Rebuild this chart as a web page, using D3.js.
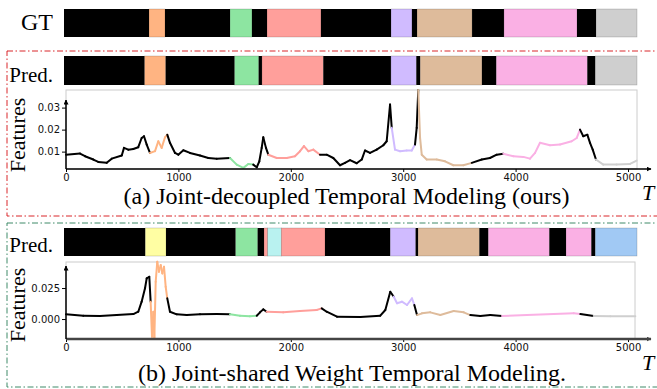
<!DOCTYPE html>
<html>
<head>
<meta charset="utf-8">
<script src="https://cdn.jsdelivr.net/npm/d3@7"></script>
<style>
  body { margin: 0; background: #fff; }
  svg { display: block; }
</style>
</head>
<body>
<svg id="fig" width="657" height="389"></svg>
<script>
// segment classes (seaborn pastel)
const classNames  = ["bg", "orange", "green", "salmon", "lavender", "tan", "pink", "gray", "yellow", "cyan", "blue"];
const classColors = ["#000000", "#ffb482", "#8de5a1", "#ff9f9b", "#d0bbff", "#debb9b", "#fab0e4", "#cfcfcf", "#fffea3", "#b9f2f0", "#a1c9f4"];

// ground truth segmentation (segment end frames + class)
const gtEnds   = [757, 899, 1478, 1673, 1807, 2287, 2911, 3097, 3142, 3632, 3916, 4566, 4735, 5100];
const gtLabels = ["bg", "orange", "bg", "green", "bg", "salmon", "bg", "lavender", "bg", "tan", "bg", "pink", "bg", "gray"];

// (a) prediction
const predAEnds   = [718, 905, 1519, 1733, 1762, 2308, 2910, 3136, 3171, 3720, 3848, 4658, 4729, 5100];
const predALabels = ["bg", "orange", "bg", "green", "bg", "salmon", "bg", "lavender", "bg", "tan", "bg", "pink", "bg", "gray"];

// (b) prediction
const predBEnds   = [724, 908, 1528, 1724, 1780, 1813, 1934, 2323, 2904, 3130, 3151, 3697, 3777, 4320, 4468, 4694, 4729, 5100];
const predBLabels = ["bg", "yellow", "bg", "green", "bg", "salmon", "cyan", "salmon", "bg", "lavender", "bg", "tan", "bg", "pink", "bg", "pink", "bg", "blue"];

// (a) feature curve
const featAT = [0, 125, 169, 243, 287, 362, 407, 496, 516, 554, 599, 643, 673, 694, 718, 747, 792, 821, 851, 881,
  901, 925, 970, 999, 1044, 1103, 1192, 1266, 1341, 1459, 1519, 1578, 1622, 1666, 1697, 1720, 1741, 1755, 1779, 1800,
  1875, 1964, 2037, 2082, 2117, 2156, 2200, 2260, 2319, 2378, 2438, 2482, 2527, 2586, 2631, 2660, 2705, 2764, 2823, 2853,
  2883, 2898, 2927, 2972, 3031, 3076, 3105, 3120, 3134, 3150, 3165, 3209, 3298, 3372, 3446, 3535, 3610, 3699, 3772, 3832,
  3891, 3980, 4069, 4128, 4173, 4217, 4306, 4395, 4499, 4544, 4573, 4602, 4638, 4662, 4686, 4715, 4780, 4899, 5018, 5077];
const featAV = [0.0086, 0.0091, 0.0079, 0.0064, 0.0053, 0.0049, 0.0068, 0.0082, 0.0117, 0.0109, 0.0112, 0.0120, 0.0162, 0.0170, 0.0132, 0.0094, 0.0102, 0.0147, 0.0117, 0.0165,
  0.0177, 0.0140, 0.0094, 0.0086, 0.0106, 0.0094, 0.0082, 0.0071, 0.0068, 0.0071, 0.0041, 0.0026, 0.0044, 0.0041, 0.0029, 0.0056, 0.0117, 0.0165, 0.0117, 0.0086,
  0.0071, 0.0071, 0.0079, 0.0102, 0.0125, 0.0102, 0.0109, 0.0086, 0.0086, 0.0071, 0.0038, 0.0049, 0.0061, 0.0047, 0.0064, 0.0105, 0.0094, 0.0109, 0.0129, 0.0147,
  0.0314, 0.0208, 0.0109, 0.0102, 0.0105, 0.0105, 0.0132, 0.0208, 0.0380, 0.0162, 0.0086, 0.0064, 0.0064, 0.0056, 0.0038, 0.0038, 0.0049, 0.0064, 0.0071, 0.0086,
  0.0090, 0.0079, 0.0076, 0.0068, 0.0094, 0.0140, 0.0129, 0.0132, 0.0147, 0.0162, 0.0200, 0.0170, 0.0177, 0.0140, 0.0109, 0.0064, 0.0041, 0.0041, 0.0044, 0.0059];

// (b) feature curve
const featBT = [0, 154, 302, 451, 599, 643, 673, 703, 718, 741, 753, 765, 777, 786, 798, 812, 827, 843, 857, 872,
  887, 901, 925, 985, 1074, 1192, 1341, 1459, 1548, 1637, 1697, 1726, 1755, 1785, 1933, 2082, 2230, 2275, 2319, 2411,
  2619, 2796, 2841, 2885, 2916, 2945, 2989, 3034, 3078, 3099, 3123, 3167, 3241, 3330, 3449, 3538, 3597, 3686, 3775, 3879,
  4101, 4339, 4517, 4576, 4695, 4843, 5065];
const featBV = [0.0038, 0.0027, 0.0024, 0.0032, 0.0040, 0.0059, 0.0140, 0.0248, 0.0328, 0.0341, 0.0140, -0.0143, 0.0059, -0.0156, 0.0301, 0.0462, 0.0381, 0.0435, 0.0368, 0.0422,
  0.0260, 0.0167, 0.0059, 0.0038, 0.0032, 0.0038, 0.0040, 0.0038, 0.0027, 0.0022, 0.0027, 0.0054, 0.0078, 0.0059, 0.0054, 0.0065, 0.0073, 0.0086, 0.0059, 0.0019,
  0.0016, 0.0027, 0.0073, 0.0220, 0.0180, 0.0127, 0.0140, 0.0113, 0.0167, 0.0113, 0.0032, 0.0046, 0.0054, 0.0032, 0.0065, 0.0054, 0.0032, 0.0024, 0.0032, 0.0024,
  0.0032, 0.0040, 0.0046, 0.0040, 0.0024, 0.0022, 0.0022];

const xTicks = [0, 1000, 2000, 3000, 4000, 5000];
const yTicksA = [0.01, 0.02, 0.03];
const yTicksB = [0.000, 0.025];

const color = d3.scaleOrdinal(classNames, classColors);
const svg = d3.select("#fig");
const serif = "'Liberation Serif', 'Times New Roman', serif";
const sans = "'DejaVu Sans', sans-serif";

// bar scale (frames -> px)
const xBar = d3.scaleLinear().domain([0, 5100]).range([64, 637]);

function gtLabelAt(t) {
  const i = d3.bisectRight(gtEnds, t);
  return gtLabels[Math.min(i, gtLabels.length - 1)];
}

function drawBar(ends, labels, y0, h) {
  const segs = ends.map((e, i) => ({ start: i === 0 ? 0 : ends[i - 1], end: e, label: labels[i] }));
  svg.append("g").selectAll("rect")
    .data(segs)
    .enter()
    .append("rect")
    .attr("x", d => xBar(d.start))
    .attr("y", y0)
    .attr("width", d => xBar(d.end) - xBar(d.start))
    .attr("height", h)
    .attr("fill", d => color(d.label))
    .attr("stroke", d => d.label === "bg" ? "none" : "rgba(0,0,0,0.25)")
    .attr("stroke-width", 0.6);
}

// arrow marker
const defs = svg.append("defs");
function marker(id, fill) {
  defs.append("marker")
    .attr("id", id)
    .attr("viewBox", "0 0 10 10")
    .attr("refX", 9).attr("refY", 5)
    .attr("markerWidth", 5).attr("markerHeight", 5)
    .attr("markerUnits", "userSpaceOnUse")
    .attr("orient", "auto")
    .append("path")
    .attr("d", "M0,0 L10,5 L0,10 z")
    .attr("fill", fill);
}
marker("arrK", "#000");
marker("arrG", "#444");

function drawPlot(opts) {
  const x = d3.scaleLinear().domain([0, 5080]).range([66, 637]);
  const y = d3.scaleLinear().domain(opts.yDomain).range([opts.bottom, opts.top]);
  const g = svg.append("g");

  // light frame
  g.append("rect")
    .attr("x", x.range()[0]).attr("y", opts.top)
    .attr("width", opts.right - x.range()[0]).attr("height", opts.bottom - opts.top)
    .attr("fill", "none").attr("stroke", "#cccccc").attr("stroke-width", 1);

  // x axis
  const xa = g.append("g")
    .attr("transform", "translate(0," + opts.bottom + ")")
    .call(d3.axisBottom(x).tickValues(xTicks).tickSize(3).tickPadding(2).tickFormat(d3.format("d")));
  xa.select(".domain").remove();
  xa.selectAll("line").attr("stroke", "#000");
  xa.selectAll("text").attr("font-family", sans).attr("font-size", 10).attr("fill", "#111");

  // y axis
  const ya = g.append("g")
    .attr("transform", "translate(66,0)")
    .call(d3.axisLeft(y).tickValues(opts.yTicks).tickSize(4).tickPadding(2).tickFormat(d3.format(opts.fmt)));
  ya.select(".domain").remove();
  ya.selectAll("text").attr("font-family", sans).attr("font-size", 10).attr("fill", "#111");

  // feature line, coloured by GT class
  const pts = opts.t.map((t, i) => [t, opts.v[i]]);
  const line = d3.line().x(d => x(d[0])).y(d => y(d[1]));
  const pairs = d3.pairs(pts);
  g.append("g").selectAll("path")
    .data(pairs)
    .enter()
    .append("path")
    .attr("d", d => line(d))
    .attr("fill", "none")
    .attr("stroke", d => color(gtLabelAt((d[0][0] + d[1][0]) / 2)))
    .attr("stroke-width", 2)
    .attr("stroke-linecap", "round")
    .attr("stroke-linejoin", "round");

  // axis lines with arrows
  g.append("line")
    .attr("x1", 66).attr("x2", 651)
    .attr("y1", opts.bottom).attr("y2", opts.bottom)
    .attr("stroke", opts.xAxisColor).attr("stroke-width", opts.xAxisWidth)
    .attr("marker-end", opts.xAxisColor === "#000" ? "url(#arrK)" : "url(#arrG)");
  g.append("line")
    .attr("x1", 66).attr("x2", 66)
    .attr("y1", opts.bottom).attr("y2", opts.yArrowTop)
    .attr("stroke", "#000").attr("stroke-width", 1.5)
    .attr("marker-end", "url(#arrK)");

  // Features label
  svg.append("text")
    .attr("transform", "translate(25," + opts.labelY + ") rotate(-90)")
    .attr("text-anchor", "middle")
    .attr("font-family", serif).attr("font-size", 22)
    .text("Features");

  // T label
  svg.append("text")
    .attr("x", 642).attr("y", opts.tY)
    .attr("font-family", serif).attr("font-style", "italic").attr("font-size", 22)
    .text("T");
}

// dash-dot frames
svg.append("rect")
  .attr("x", 7).attr("y", 51).attr("width", 700).attr("height", 165)
  .attr("fill", "none").attr("stroke", "#d9262a").attr("stroke-width", 1)
  .attr("stroke-dasharray", "6,2.5,1.5,2.5");
svg.append("rect")
  .attr("x", 7).attr("y", 223).attr("width", 700).attr("height", 164)
  .attr("fill", "none").attr("stroke", "#3f8a68").attr("stroke-width", 1)
  .attr("stroke-dasharray", "6,2.5,1.5,2.5");

// bars
drawBar(gtEnds, gtLabels, 9, 28);
drawBar(predAEnds, predALabels, 56, 29);
drawBar(predBEnds, predBLabels, 228, 28);

// row labels
const rowLabels = [["GT", 30, 24], ["Pred.", 81.5, 21], ["Pred.", 251.5, 21]];
svg.append("g").selectAll("text")
  .data(rowLabels)
  .enter()
  .append("text")
  .attr("x", 53).attr("y", d => d[1])
  .attr("text-anchor", "end")
  .attr("font-family", serif).attr("font-size", d => d[2])
  .text(d => d[0]);

drawPlot({ t: featAT, v: featAV, yDomain: [0.0021, 0.038], top: 90, bottom: 169, right: 637,
  yTicks: yTicksA, fmt: ".2f", xAxisColor: "#000", xAxisWidth: 1.5, yArrowTop: 100, labelY: 135, tY: 200 });
drawPlot({ t: featBT, v: featBV, yDomain: [-0.0161, 0.046], top: 262, bottom: 339, right: 635,
  yTicks: yTicksB, fmt: ".3f", xAxisColor: "#444", xAxisWidth: 2.5, yArrowTop: 266, labelY: 305, tY: 370 });

// captions
svg.append("text")
  .attr("x", 346.5).attr("y", 204)
  .attr("text-anchor", "middle")
  .attr("font-family", serif).attr("font-size", 24)
  .text("(a) Joint-decoupled Temporal Modeling (ours)");
svg.append("text")
  .attr("x", 352).attr("y", 381)
  .attr("text-anchor", "middle")
  .attr("font-family", serif).attr("font-size", 24)
  .text("(b) Joint-shared Weight Temporal Modeling.");
</script>
</body>
</html>
